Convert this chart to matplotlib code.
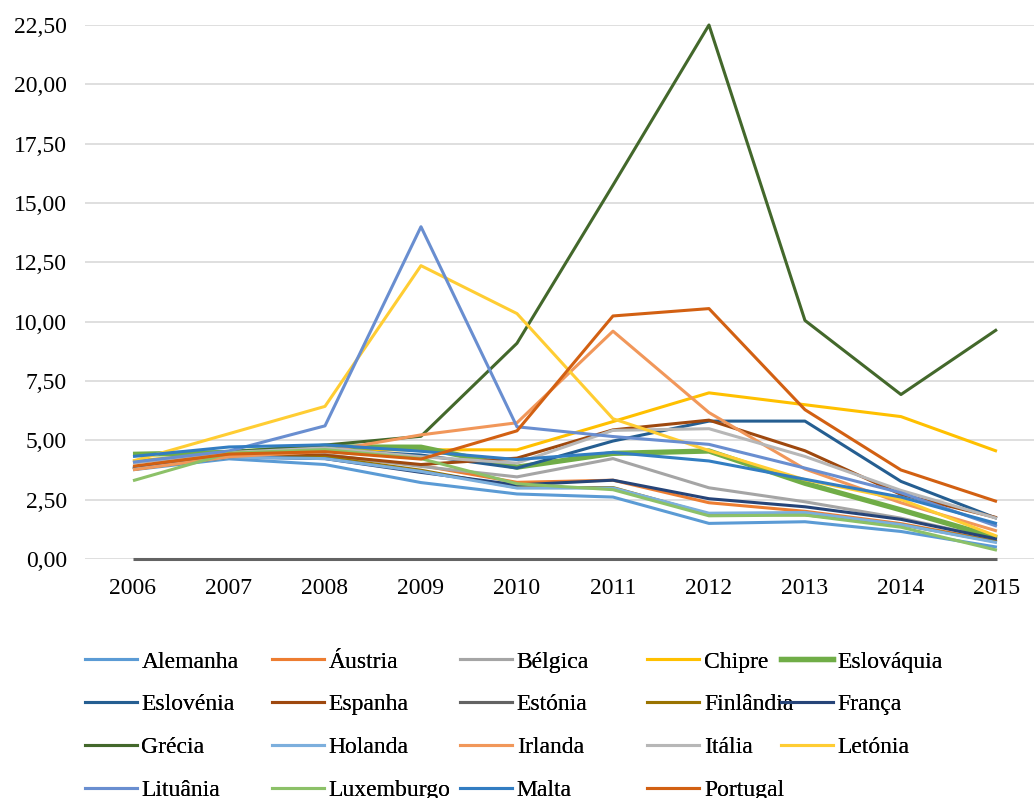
import matplotlib.pyplot as plt
from matplotlib.lines import Line2D
from matplotlib.ticker import FuncFormatter, MultipleLocator

plt.rcParams['font.family'] = ['Liberation Serif', 'DejaVu Serif']

anos = ['2006', '2007', '2008', '2009', '2010', '2011', '2012', '2013', '2014', '2015']

paises = ['Alemanha', 'Áustria', 'Bélgica', 'Chipre', 'Eslováquia',
          'Eslovénia', 'Espanha', 'Estónia', 'Finlândia', 'França',
          'Grécia', 'Holanda', 'Irlanda', 'Itália', 'Letónia',
          'Lituânia', 'Luxemburgo', 'Malta', 'Portugal']

alemanha = [3.76, 4.22, 3.98, 3.22, 2.74, 2.61, 1.50, 1.57, 1.16, 0.50]
austria = [3.80, 4.30, 4.36, 3.94, 3.23, 3.32, 2.37, 2.01, 1.49, 0.75]
belgica = [3.82, 4.33, 4.40, 3.90, 3.46, 4.23, 3.00, 2.41, 1.72, 0.84]
chipre = [4.13, 4.48, 4.60, 4.60, 4.60, 5.79, 7.00, 6.50, 6.00, 4.54]
eslovaquia = [4.41, 4.49, 4.72, 4.71, 3.87, 4.45, 4.55, 3.19, 2.07, 0.89]
eslovenia = [3.85, 4.53, 4.61, 4.38, 3.83, 4.97, 5.81, 5.81, 3.27, 1.71]
espanha = [3.78, 4.31, 4.37, 3.98, 4.25, 5.44, 5.85, 4.56, 2.72, 1.74]
estonia = [0, 0, 0, 0, 0, 0, 0, 0, 0, 0]
finlandia = [3.78, 4.29, 4.29, 3.74, 3.01, 3.01, 1.89, 1.86, 1.45, 0.72]
franca = [3.80, 4.30, 4.23, 3.65, 3.12, 3.32, 2.54, 2.20, 1.67, 0.84]
grecia = [4.07, 4.50, 4.80, 5.17, 9.09, 15.75, 22.50, 10.05, 6.93, 9.67]
holanda = [3.78, 4.29, 4.23, 3.69, 2.99, 2.99, 1.93, 1.96, 1.45, 0.69]
irlanda = [3.76, 4.31, 4.53, 5.23, 5.74, 9.60, 6.17, 3.79, 2.37, 1.18]
italia = [4.05, 4.49, 4.68, 4.31, 4.04, 5.42, 5.49, 4.32, 2.89, 1.71]
letonia = [4.13, 5.28, 6.43, 12.36, 10.34, 5.91, 4.57, 3.34, 2.51, 0.96]
lituania = [4.08, 4.55, 5.61, 14.00, 5.57, 5.16, 4.83, 3.83, 2.79, 1.38]
luxemburgo = [3.30, 4.46, 4.61, 4.23, 3.17, 2.92, 1.82, 1.85, 1.34, 0.37]
malta = [4.32, 4.72, 4.81, 4.54, 4.19, 4.49, 4.13, 3.36, 2.61, 1.49]
portugal = [3.91, 4.42, 4.52, 4.21, 5.40, 10.24, 10.55, 6.29, 3.75, 2.42]

valores = [alemanha, austria, belgica, chipre, eslovaquia, eslovenia, espanha,
           estonia, finlandia, franca, grecia, holanda, irlanda, italia,
           letonia, lituania, luxemburgo, malta, portugal]

cores = ['#5B9BD5', '#ED7D31', '#A5A5A5', '#FFC000', '#70AD47',
         '#255E91', '#9E480E', '#636363', '#997300', '#264478',
         '#43682B', '#7CAFDD', '#F1975A', '#B7B7B7', '#FFCD33',
         '#698ED0', '#8CC168', '#327DC2', '#D26012']

fig = plt.figure(figsize=(10.34, 7.98), dpi=100)
ax = fig.add_axes([0.0822, 0.2995, 0.9284, 0.6692])

x = list(range(len(anos)))
for nome, v, c in zip(paises, valores, cores):
    lw = 3.8 if nome == 'Eslováquia' else 2.2
    ax.plot(x, v, color=c, lw=lw, solid_capstyle='butt', label=nome, clip_on=False)

ax.set_xlim(-0.5, len(anos) - 0.5)
ax.set_ylim(0, 22.5)
ax.set_xticks(x)
ax.set_xticklabels(anos)
ax.yaxis.set_major_locator(MultipleLocator(2.5))
ax.yaxis.set_major_formatter(FuncFormatter(lambda v, p: f'{v:.2f}'.replace('.', ',')))
ax.grid(axis='y', color='#D9D9D9', lw=1.2)
ax.set_axisbelow(True)
for s in ax.spines.values():
    s.set_visible(False)
ax.tick_params(length=0, labelsize=17, colors='black')
ax.tick_params(axis='y', pad=13)
ax.tick_params(axis='x', pad=14)

# legend: 5 equal-width columns like Excel
col_x = [0.082, 0.263, 0.445, 0.626, 0.755]
for k in range(5):
    idx = list(range(k, len(paises), 5))
    hs = [Line2D([], [], color=cores[i], lw=3.8 if paises[i] == 'Eslováquia' else 2.2)
          for i in idx]
    leg = fig.legend(hs, [paises[i] for i in idx], loc='upper left',
                     bbox_to_anchor=(col_x[k], 0.184), frameon=False,
                     fontsize=17, handlelength=2.2, handletextpad=0.2,
                     labelspacing=0.9, borderpad=0, borderaxespad=0)
    fig.add_artist(leg)

fig.savefig('out.png', dpi=100)
